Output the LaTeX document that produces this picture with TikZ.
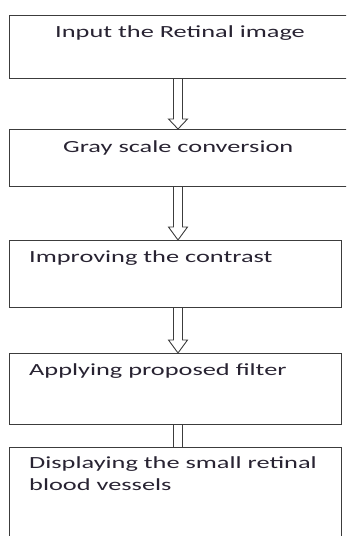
\documentclass[tikz,border=0pt]{standalone}
\usepackage{fontspec}
\setmainfont[FakeStretch=1.55]{Carlito}
\usetikzlibrary{positioning,calc}

\definecolor{boxline}{RGB}{60,60,60}
\definecolor{boxtext}{RGB}{40,35,50}

\tikzset{
  stage/.style={rectangle, draw=boxline, line width=1.1pt, anchor=north west, inner sep=0pt},
  stagetext/.style={anchor=base west, inner sep=0pt, text=boxtext, align=left,
    font=\fontsize{17}{22}\selectfont},
  hollow/.style={draw=boxline, line width=0.9pt, line join=miter},
}

% hollow down arrow: top point, tip point, head length
\newcommand{\hollowarrow}[3]{%
  \draw[hollow] ($(#1)+(-4.5,0)$) -- ($(#2)+(-4.5,#3)$) -- ++(-5,0) -- (#2)
    -- ++(9.5,#3) -- ++(-5,0) -- ($(#1)+(4.5,0)$);
}

\begin{document}
\begin{tikzpicture}[x=1pt,y=1pt]
\useasboundingbox (0,0) rectangle (346,-536);
\clip (0,0) rectangle (346,-536);
\coordinate (axis) at (178,0);

% the stages
\node[stage, minimum width=345pt, minimum height=63pt] (input) at (9,-15) {};
\node[stage, minimum width=345pt, minimum height=57pt] (gray) at (9,-129) {};
\node[stage, minimum width=332pt, minimum height=67pt] (contrast) at (9,-240) {};
\node[stage, minimum width=332pt, minimum height=71pt] (filter) at (9,-353) {};
\node[stage, minimum width=332pt, minimum height=100pt] (vessels) at (9,-447) {};

\node[stagetext] (input text) at ($(input.north west)+(46,-22)$) {Input the Retinal image};
\node[stagetext] (gray text) at ($(gray.north west)+(54,-23)$) {Gray scale conversion};
\node[stagetext] (contrast text) at ($(contrast.north west)+(20,-22)$) {Improving the contrast};
\node[stagetext] (filter text) at ($(filter.north west)+(20,-22)$) {Applying proposed filter};
% base of a two-line node is its last line
\node[stagetext] (vessels text) at ($(vessels.north west)+(20,-43)$) {Displaying the small retinal\\blood vessels};

% connectors
\hollowarrow{input.south -| axis}{gray.north -| axis}{10}
\hollowarrow{gray.south -| axis}{contrast.north -| axis}{13}
\hollowarrow{contrast.south -| axis}{filter.north -| axis}{13}
\foreach \s in {-4.5,4.5}
  \draw[hollow] ($(filter.south -| axis)+(\s,0)$) -- ($(vessels.north -| axis)+(\s,0)$);

\end{tikzpicture}
\end{document}
